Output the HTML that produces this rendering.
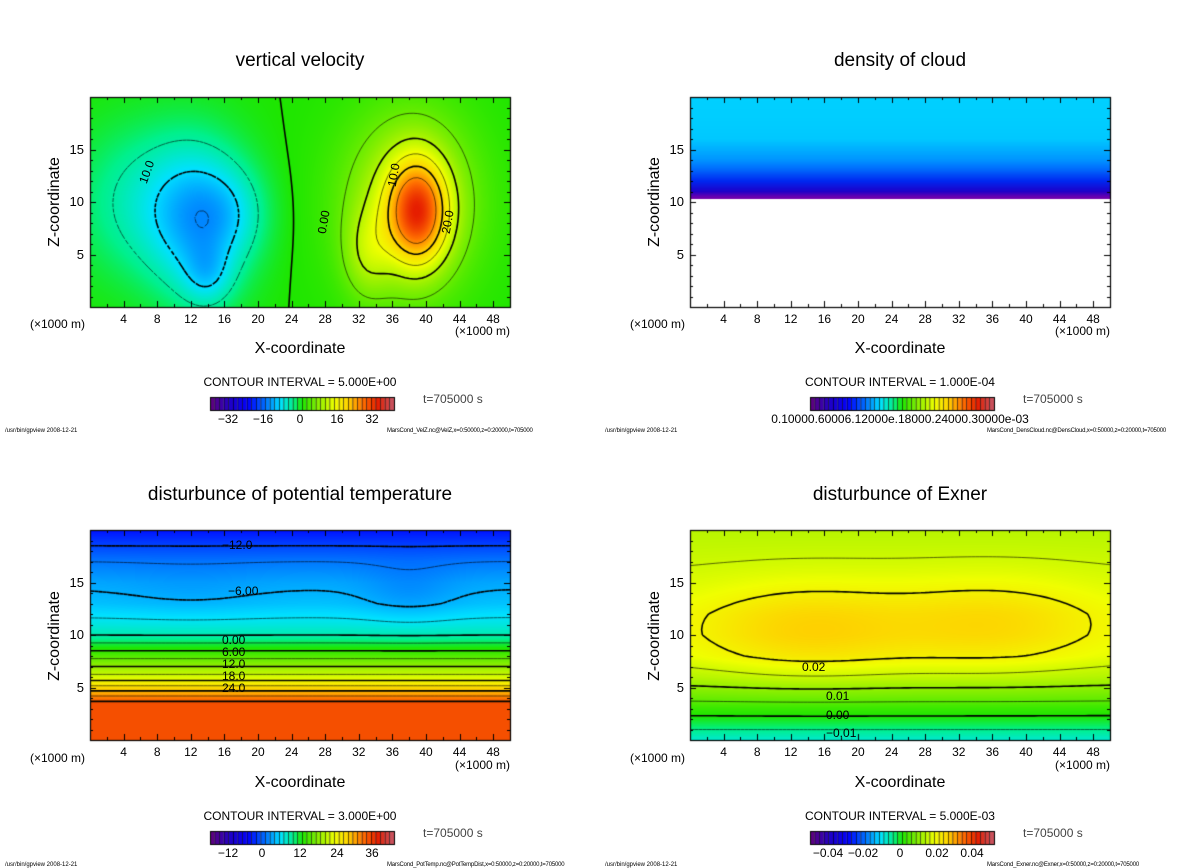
<!DOCTYPE html>
<html><head><meta charset="utf-8">
<style>
body{margin:0;background:#fff;width:1200px;height:868px;overflow:hidden;position:relative;font-family:"Liberation Sans",sans-serif;}
.t{position:absolute;white-space:nowrap;color:#000;}
canvas{position:absolute;}
</style></head>
<body>
<canvas id="cv" width="1200" height="868" style="left:0;top:0"></canvas>
<div id="txt"></div>
<script>
// ---------- data ----------
const vvX=[13,7,14,39,38,33,17];
const vvZ=[8,10,3,9,10,5,9];
const vvSX=[4,6,2,2.5,5.5,2,3];
const vvSZ=[5,5,2,3.5,6,3,3];
const vvA=[-10,-6,-5,22,12,6,-4];
const vvLevels=[-15,-10,-5,0,5,10,15,20,25];
const dnZ=[10.2,10.3,10.6,11,12,13,14,16,18,20];
const dnV=[0,1,0.95,0.85,0.65,0.5,0.38,0.25,0.18,0.15];
const thZ=[0,3.5,4.2,5,6,7,8,9,10,11,13,15,17,19,20];
const thV=[31,31,27,22,16,12,8,4,0,-2,-5,-6.5,-9,-13,-15];
const thBX=[38,12];const thBZ=[14,14];const thBA=[-1.8,-0.8];
const thLevels=[-12,-9,-6,-3,0,3,6,9,12,15,18,21,24,27,30];
const exZ=[0,1,2,3,4,5,6,7,8,10,12,14,16,18,20];
const exV=[-0.009,-0.005,-0.001,0.002,0.006,0.009,0.012,0.014,0.016,0.017,0.017,0.016,0.015,0.014,0.013];
const exBX=[14,36];const exBZ=[10.5,11];const exBA=[0.008,0.007];
const exLevels=[-0.015,-0.01,-0.005,0,0.005,0.01,0.015,0.02];

// ---------- helpers ----------
const cv=document.getElementById('cv');const ctx=cv.getContext('2d');
ctx.fillStyle='#fff';ctx.fillRect(0,0,1200,868);
const stops=[[0,[90,0,130]],[0.1,[30,0,200]],[0.2,[0,0,255]],[0.3,[0,120,255]],[0.38,[0,225,255]],[0.45,[0,240,140]],[0.5,[30,230,0]],[0.6,[150,240,0]],[0.68,[240,255,0]],[0.76,[255,205,0]],[0.84,[255,110,0]],[0.92,[230,30,0]],[1,[200,80,90]]];
function cmap(t){t=Math.max(0,Math.min(1,t));for(let i=1;i<stops.length;i++){if(t<=stops[i][0]){const a=stops[i-1],b=stops[i];const f=(t-a[0])/(b[0]-a[0]);return a[1].map((c,k)=>c+(b[1][k]-c)*f);}}return stops[stops.length-1][1];}
function interp(xs,ys,v){if(v<=xs[0])return ys[0];for(let i=1;i<xs.length;i++){if(v<=xs[i]){const f=(v-xs[i-1])/(xs[i]-xs[i-1]);return ys[i-1]+(ys[i]-ys[i-1])*f;}}return ys[ys.length-1];}
function gsum(X,Z,SX,SZ,A,x,z){let v=0;for(let k=0;k<A.length;k++){v+=A[k]*Math.exp(-((x-X[k])**2/(2*SX[k]**2)+(z-Z[k])**2/(2*SZ[k]**2)));}return v;}
const f1=(x,z)=>gsum(vvX,vvZ,vvSX,vvSZ,vvA,x,z);
const f3=(x,z)=>interp(thZ,thV,z)+gsum(thBX,thBZ,[4,6],[2,2],thBA,x,z);
const f4=(x,z)=>interp(exZ,exV,z)+gsum(exBX,exBZ,[9,9],[3,3],exBA,x,z);
const W=420,H=210;
function sx(P,x){return P.x0+x/50*W;} function sz(P,z){return P.y0+H-z/20*H;}
function fill(P,fn){const img=ctx.createImageData(W,H);for(let j=0;j<H;j++)for(let i=0;i<W;i++){const x=(i+0.5)/W*50,z=(H-j-0.5)/H*20;const c=fn(x,z);const o=(j*W+i)*4;img.data[o]=c[0];img.data[o+1]=c[1];img.data[o+2]=c[2];img.data[o+3]=255;}ctx.putImageData(img,P.x0,P.y0);}
function contours(P,fn,levels,boldParity){const nx=100,nz=40;const g=[];for(let i=0;i<=nx;i++){g[i]=[];for(let j=0;j<=nz;j++)g[i][j]=fn(i/nx*50,j/nz*20);}
 levels.forEach((L,li)=>{ctx.beginPath();for(let i=0;i<nx;i++)for(let j=0;j<nz;j++){const c=[[i,j],[i+1,j],[i+1,j+1],[i,j+1]];const pts=[];for(let e=0;e<4;e++){const a=c[e],b=c[(e+1)%4];const va=g[a[0]][a[1]],vb=g[b[0]][b[1]];if((va<L)!==(vb<L)){const f=(L-va)/(vb-va);pts.push([a[0]+(b[0]-a[0])*f,a[1]+(b[1]-a[1])*f]);}}
 for(let p=0;p+1<pts.length;p+=2){ctx.moveTo(sx(P,pts[p][0]/nx*50),sz(P,pts[p][1]/nz*20));ctx.lineTo(sx(P,pts[p+1][0]/nx*50),sz(P,pts[p+1][1]/nz*20));}}
 ctx.strokeStyle='#000';ctx.lineWidth=(li%2===boldParity)?1.6:0.6;ctx.setLineDash(L<0?[4,3]:[]);ctx.stroke();ctx.setLineDash([]);});}
function axes(P){ctx.strokeStyle='#000';ctx.lineWidth=1.2;ctx.strokeRect(P.x0+0.5,P.y0+0.5,W,H);ctx.lineWidth=1;ctx.beginPath();for(let x=2;x<50;x+=2){const L=(x%4===0)?6:3;const px=Math.round(sx(P,x))+0.5;ctx.moveTo(px,P.y0+H);ctx.lineTo(px,P.y0+H-L);ctx.moveTo(px,P.y0);ctx.lineTo(px,P.y0+L);}for(let z=1;z<20;z++){const L=(z%5===0)?6:3;const py=Math.round(sz(P,z))+0.5;ctx.moveTo(P.x0,py);ctx.lineTo(P.x0+L,py);ctx.moveTo(P.x0+W,py);ctx.lineTo(P.x0+W-L,py);}ctx.stroke();}
const txt=document.getElementById('txt');
function T(s,x,y,size,name,extra){const d=document.createElement('div');d.className='t';d.textContent=s;d.style.left=x+'px';d.style.top=y+'px';d.style.fontSize=size+'px';if(extra)d.style.cssText+=extra;


txt.appendChild(d);return d;}
function colorbar(x,y){for(let k=0;k<40;k++){const c=cmap(k/39);ctx.fillStyle=`rgb(${c.map(Math.round).join(',')})`;ctx.fillRect(x+k*4.6,y,4.6,13);ctx.fillStyle='#000';ctx.fillRect(x+k*4.6,y,0.6,13);}ctx.strokeStyle='#000';ctx.lineWidth=1;ctx.strokeRect(x+0.5,y+0.5,184,13);}
function frame(P,title,ci,foot,cbl,offX,offY){
 T(title,offX+300,offY+50,19,'panel-title','transform:translateX(-50%)');
 T('Z-coordinate',offX+55,offY+202,16,'y-axis-title','transform:translate(-50%,-50%) rotate(-90deg)');
 [5,10,15].forEach(z=>T(String(z),offX+84,sz(P,z)-8,13,'y-tick-label','transform:translateX(-100%)'));
 for(let x=4;x<=48;x+=4)T(String(x),sx(P,x),P.y0+H+5,12,'x-tick-label','transform:translateX(-50%)');
 T('(×1000 m)',offX+30,offY+317,12,'x-unit-left');T('(×1000 m)',offX+455,offY+324,12,'x-unit-right');
 T('X-coordinate',offX+300,offY+340,16,'x-axis-title','transform:translateX(-50%)');
 T('CONTOUR INTERVAL = '+ci,offX+300,offY+375,12,'contour-interval','transform:translateX(-50%)');
 T('t=705000 s',offX+423,offY+392,12,'time-label','color:#444');
 colorbar(offX+210,offY+397);
 cbl.forEach(l=>T(l[0],offX+l[1],offY+412,12,'colorbar-label','transform:translateX(-50%)'));
 T('/usr/bin/gpview   2008-12-21',offX+5,offY+428,6,'footer-left');
 T(foot,offX+387,offY+428,6,'footer-right','letter-spacing:-0.2px');
}
const P1={x0:90,y0:97},P2={x0:690,y0:97},P3={x0:90,y0:530},P4={x0:690,y0:530};
fill(P1,(x,z)=>cmap((f1(x,z)+40)/80));
contours(P1,f1,vvLevels,1);axes(P1);
const dnStops=[[0,[0,220,255]],[0.25,[0,200,255]],[0.45,[0,120,255]],[0.65,[0,40,240]],[0.85,[30,0,200]],[1,[120,0,170]]];
fill(P2,(x,z)=>{if(z<10.3)return[255,255,255];const v=interp(dnZ,dnV,z);for(let i=1;i<dnStops.length;i++){if(v<=dnStops[i][0]){const a=dnStops[i-1],b=dnStops[i];const f=(v-a[0])/(b[0]-a[0]);return a[1].map((c,k)=>c+(b[1][k]-c)*f);}}return dnStops[5][1];});
axes(P2);
fill(P3,(x,z)=>cmap((f3(x,z)+30)/70));
contours(P3,f3,thLevels,0);axes(P3);
fill(P4,(x,z)=>cmap((f4(x,z)+0.05)/0.1));
contours(P4,f4,exLevels,1);axes(P4);
frame(P1,'vertical velocity','5.000E+00','MarsCond_VelZ.nc@VelZ,x=0:50000,z=0:20000,t=705000',[['−32',228],['−16',263],['0',300],['16',337],['32',372]],0,0);
frame(P2,'density of cloud','1.000E-04','MarsCond_DensCloud.nc@DensCloud,x=0:50000,z=0:20000,t=705000',[['0.10000.60006.12000e.18000.24000.30000e-03',300]],600,0);
frame(P3,'disturbunce of potential temperature','3.000E+00','MarsCond_PotTemp.nc@PotTempDist,x=0:50000,z=0:20000,t=705000',[['−12',228],['0',262],['12',300],['24',337],['36',372]],0,434);
frame(P4,'disturbunce of Exner','5.000E-03','MarsCond_Exner.nc@Exner,x=0:50000,z=0:20000,t=705000',[['−0.04',228],['−0.02',263],['0',300],['0.02',337],['0.04',372]],600,434);
[['10.0',135,165,-70],['0.00',312,215,-80],['10.0',382,168,-80],['20.0',436,215,-80]].forEach(l=>T(l[0],l[1],l[2],12,'contour-label','transform:rotate('+l[3]+'deg)'));
[['−12.0',222,538],['−6.00',228,584],['0.00',222,633],['6.00',222,645],['12.0',222,657],['18.0',222,669],['24.0',222,681]].forEach(l=>T(l[0],l[1],l[2],12,'contour-label'));
[['0.02',802,660],['0.01',826,689],['0.00',826,708],['−0.01',826,726]].forEach(l=>T(l[0],l[1],l[2],12,'contour-label'));
</script>
</body></html>
